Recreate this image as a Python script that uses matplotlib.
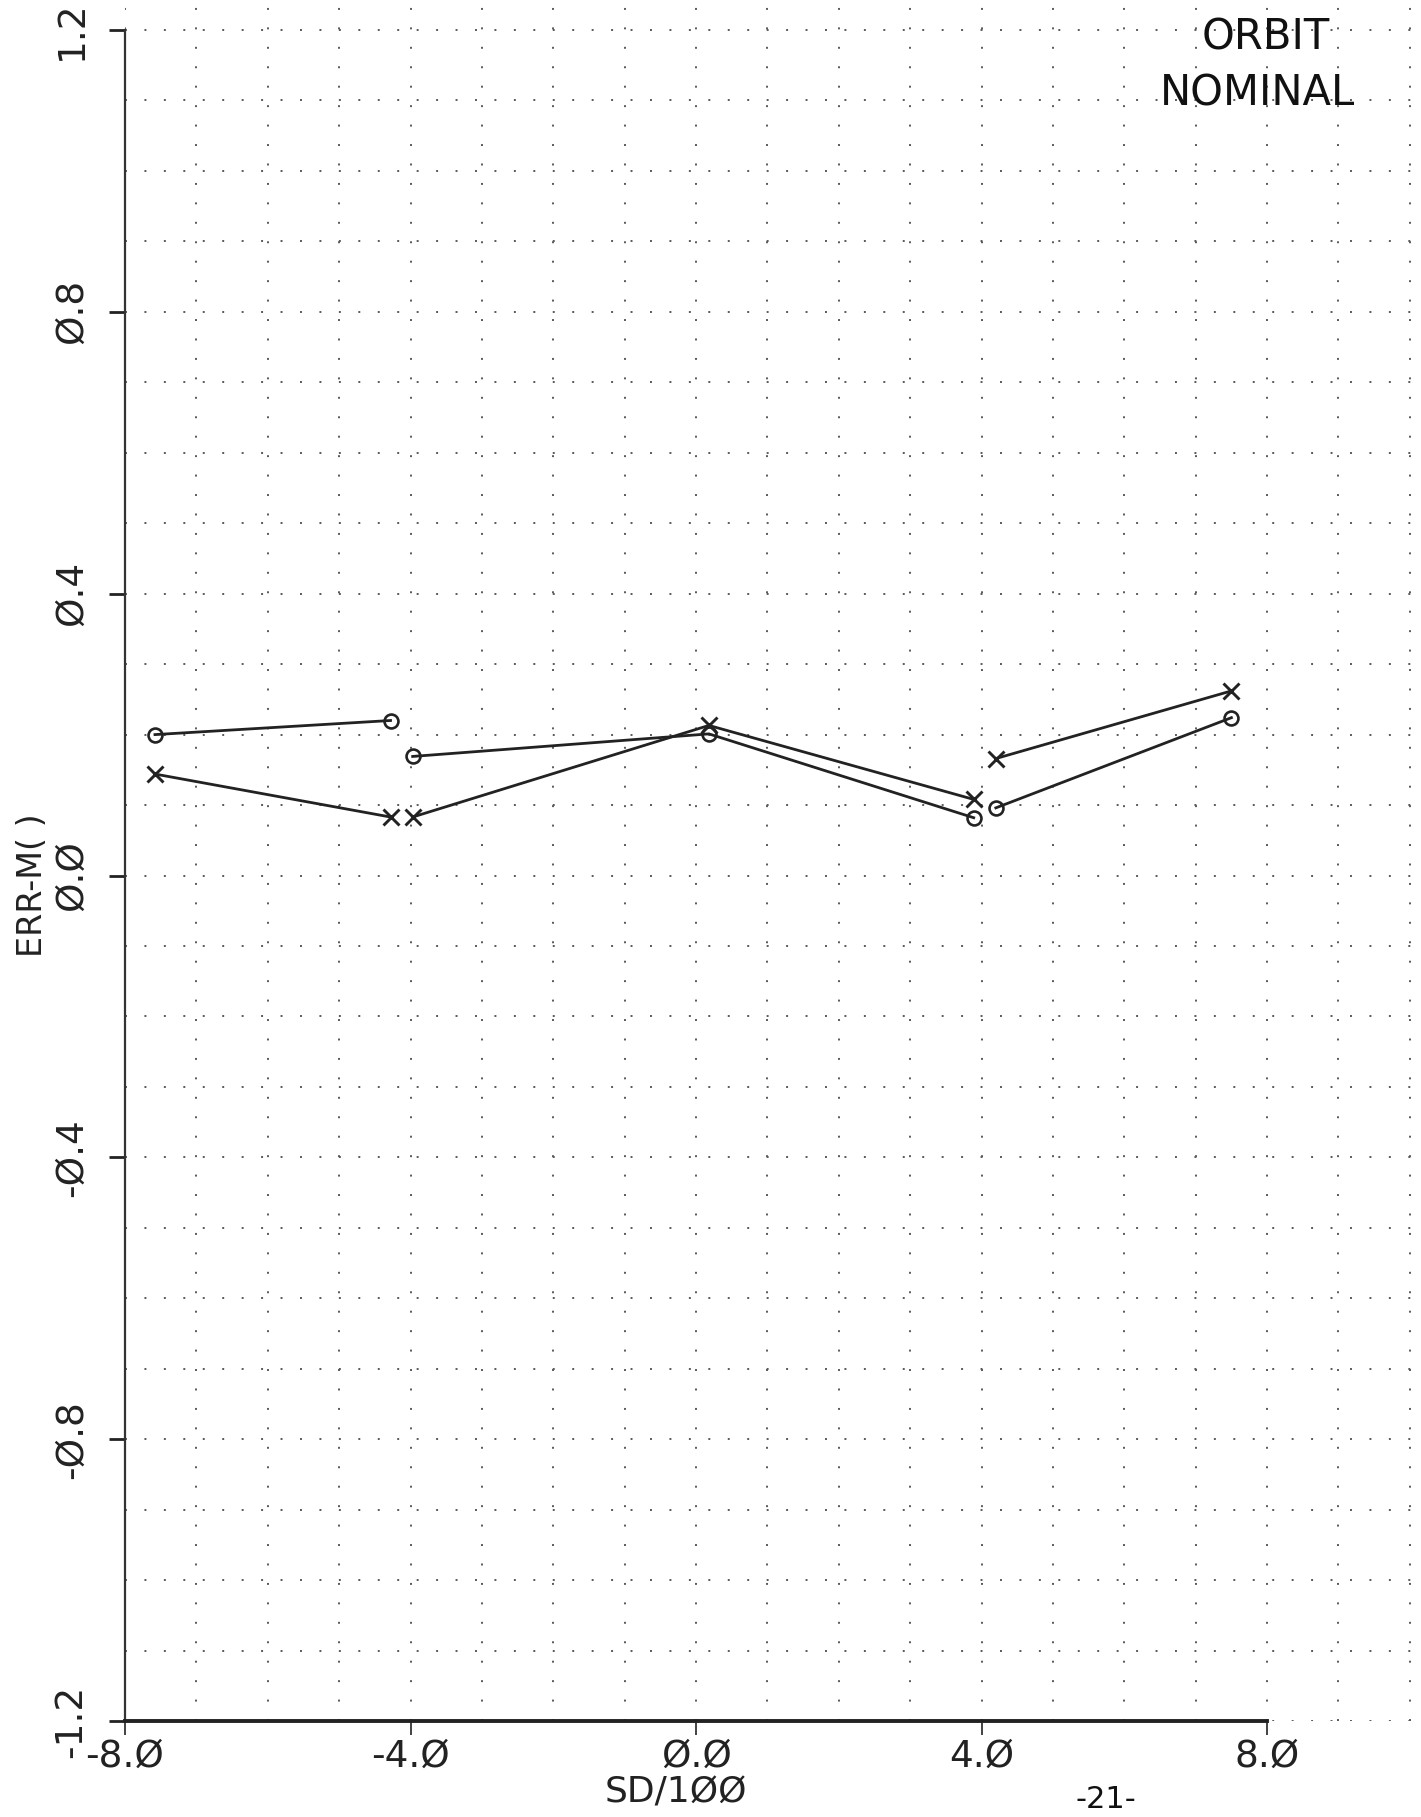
import numpy as np
import matplotlib.pyplot as plt
from matplotlib.ticker import FixedLocator

# ===============================
# Data (SD/100 vs ERR-M)
# ===============================

# x positions of the three separate runs
sd_left = [-7.58, -4.28]
sd_mid = [-3.97, 0.18, 3.89]
sd_right = [4.20, 7.50]

# "o" series
err_o_left = [0.200, 0.220]
err_o_mid = [0.169, 0.201, 0.082]
err_o_right = [0.096, 0.224]

# "x" series
err_x_left = [0.144, 0.083]
err_x_mid = [0.083, 0.213, 0.108]
err_x_right = [0.166, 0.262]

x_ticks = [-8, -4, 0, 4, 8]
x_tick_labels = ["-8.Ø", "-4.Ø", "Ø.Ø", "4.Ø", "8.Ø"]
y_ticks = [-1.2, -0.8, -0.4, 0.0, 0.4, 0.8, 1.2]
y_tick_labels = ["-1.2", "-Ø.8", "-Ø.4", "Ø.Ø", "Ø.4", "Ø.8", "1.2"]

# ===============================
# Figure layout (pixel-matched to the 1421x1817 sheet)
# ===============================
W, H = 1421, 1817
fig = plt.figure(figsize=(W / 100, H / 100), dpi=100)
fig.patch.set_facecolor("white")

ax = fig.add_axes([125 / W, 96 / H, 1287 / W, 1721 / H])
ax.set_xlim(-8, 10.03)
ax.set_ylim(-1.2, 1.2426)

# dotted grid every 1.0 in x and 0.1 in y
ax.xaxis.set_minor_locator(FixedLocator(np.arange(-8, 10.5, 1.0)))
ax.yaxis.set_minor_locator(FixedLocator(np.round(np.arange(-1.2, 1.25, 0.1), 2)))
ax.grid(which="both", color="0.35", linestyle=(0, (1, 9)), linewidth=1.4)
ax.set_axisbelow(True)
ax.tick_params(which="minor", length=0)

ax.set_xticks(x_ticks)
ax.set_xticklabels(x_tick_labels, fontsize=27)
ax.set_yticks(y_ticks)
ax.set_yticklabels(y_tick_labels, fontsize=27, rotation=90, va="center")
ax.tick_params(axis="y", which="major", direction="out", length=11.5, width=2.0, pad=14, colors="#222222")
ax.tick_params(axis="x", which="major", direction="out", length=10, width=1.2, pad=3, colors="#222222")

for side in ["top", "right"]:
    ax.spines[side].set_visible(False)
ax.spines["left"].set_bounds(-1.2, 1.2)
ax.spines["left"].set_linewidth(1.6)
ax.spines["left"].set_color("#333333")
ax.spines["bottom"].set_bounds(-8, 8)
ax.spines["bottom"].set_linewidth(2.8)
ax.spines["bottom"].set_color("#222222")

# ===============================
# Curves
# ===============================
line_kw = dict(color="#222222", linewidth=2.0)
for xs, ys in [(sd_left, err_o_left), (sd_mid, err_o_mid), (sd_right, err_o_right)]:
    ax.plot(xs, ys, marker="o", markersize=10, fillstyle="none", markeredgewidth=1.9, **line_kw)
for xs, ys in [(sd_left, err_x_left), (sd_mid, err_x_mid), (sd_right, err_x_right)]:
    ax.plot(xs, ys, marker="x", markersize=11, markeredgewidth=2.1, **line_kw)

# axis labels
fig.text(676 / W, 1 - 1792 / H, "SD/1ØØ", fontsize=26, ha="center", va="center", color="#222222")
fig.text(33 / W, 1 - 885 / H, "ERR-M( )", fontsize=24, rotation=90, ha="center", va="center", color="#222222")

# handwritten notes
fig.text(1266 / W, 1 - 37 / H, "ORBIT", fontsize=30, ha="center", va="center", color="#111111")
fig.text(1257 / W, 1 - 93 / H, "NOMINAL", fontsize=30, ha="center", va="center", color="#111111")
fig.text(1106 / W, 1 - 1814 / H, "-21-", fontsize=22, ha="center", va="bottom", color="#111111")

fig.savefig("out.png", dpi=100, facecolor="white")
